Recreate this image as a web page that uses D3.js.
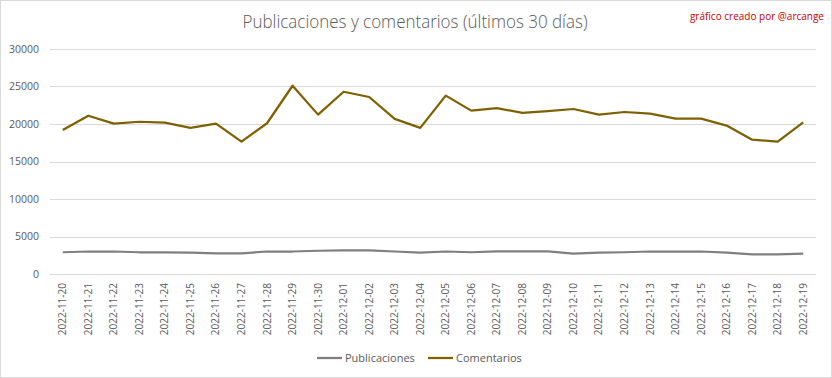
<!DOCTYPE html>
<html>
<head>
<meta charset="utf-8">
<script src="https://cdn.jsdelivr.net/npm/d3@7"></script>
<style>
  body { margin: 0; background: #fff; }
  svg { display: block; font-family: "Open Sans", "Noto Sans", sans-serif; }
</style>
</head>
<body>
<svg id="chart" width="832" height="378"></svg>
<script>
// --- Data ---
const dates = [
  "2022-11-20", "2022-11-21", "2022-11-22", "2022-11-23", "2022-11-24", "2022-11-25",
  "2022-11-26", "2022-11-27", "2022-11-28", "2022-11-29", "2022-11-30", "2022-12-01",
  "2022-12-02", "2022-12-03", "2022-12-04", "2022-12-05", "2022-12-06", "2022-12-07",
  "2022-12-08", "2022-12-09", "2022-12-10", "2022-12-11", "2022-12-12", "2022-12-13",
  "2022-12-14", "2022-12-15", "2022-12-16", "2022-12-17", "2022-12-18", "2022-12-19"
];
const publicaciones = [
  2900, 3000, 3000, 2900, 2900, 2850, 2750, 2750, 3000, 3000,
  3100, 3150, 3150, 3000, 2850, 3000, 2900, 3030, 3030, 3030,
  2720, 2860, 2900, 3000, 3000, 3000, 2860, 2620, 2620, 2730
];
const comentarios = [
  19200, 21100, 20050, 20300, 20180, 19480, 20050, 17650, 20100, 25100,
  21250, 24300, 23600, 20680, 19480, 23780, 21780, 22130, 21480, 21730,
  22000, 21240, 21600, 21380, 20720, 20720, 19790, 17910, 17650, 20220
];
const yTicks = [0, 5000, 10000, 15000, 20000, 25000, 30000];

const series = [
  { name: "Publicaciones", values: publicaciones, color: "#7f7f7f" },
  { name: "Comentarios", values: comentarios, color: "#7f6000" }
];

// --- Layout ---
const W = 832, H = 378;
const margin = { top: 49, right: 16, bottom: 104, left: 50 };
const width = W - margin.left - margin.right;
const height = H - margin.top - margin.bottom;

const svg = d3.select("#chart");

// outer border
svg.append("rect")
  .attr("x", 0.5).attr("y", 0.5)
  .attr("width", W - 1).attr("height", H - 1)
  .attr("fill", "#fff")
  .attr("stroke", "#d9d9d9");

// Title
svg.append("text")
  .attr("x", 415)
  .attr("y", 28)
  .attr("text-anchor", "middle")
  .attr("font-size", "17.5px")
  .attr("font-weight", 300)
  .attr("fill", "#595959")
  .attr("textLength", 345)
  .attr("lengthAdjust", "spacingAndGlyphs")
  .text("Publicaciones y comentarios (últimos 30 días)");

// Credit
svg.append("text")
  .attr("x", 824)
  .attr("y", 20)
  .attr("text-anchor", "end")
  .attr("font-size", "10px")
  .attr("fill", "#c00000")
  .text("gráfico creado por @arcange");

const g = svg.append("g").attr("transform", `translate(${margin.left},${margin.top})`);

// --- Scales ---
const x = d3.scaleBand().domain(dates).range([0, width]);
const y = d3.scaleLinear().domain([0, 30000]).range([height, 0]);

// Gridlines
g.append("g")
  .selectAll("line")
  .data(yTicks)
  .join("line")
  .attr("x1", 0).attr("x2", width)
  .attr("y1", d => Math.round(y(d)) + 0.5)
  .attr("y2", d => Math.round(y(d)) + 0.5)
  .attr("stroke", "#d9d9d9")
  .attr("stroke-width", 1);

// Y axis
const yAxis = g.append("g")
  .call(d3.axisLeft(y).tickValues(yTicks).tickSize(0).tickPadding(11).tickFormat(d3.format("d")));
yAxis.select(".domain").remove();
yAxis.selectAll("text")
  .attr("fill", "#595959")
  .attr("font-size", "10.5px")
  .attr("font-family", "Open Sans, sans-serif");

// X axis
const xAxis = g.append("g")
  .attr("transform", `translate(0,${height})`)
  .call(d3.axisBottom(x).tickSize(0));
xAxis.select(".domain").remove();
xAxis.selectAll("text")
  .attr("fill", "#595959")
  .attr("font-size", "10px")
  .attr("font-family", "Open Sans, sans-serif")
  .attr("text-anchor", "end")
  .attr("transform", "rotate(-90)")
  .attr("x", -9)
  .attr("y", 0)
  .attr("dy", "0.35em");

// Lines
const line = d3.line()
  .x((d, i) => x(dates[i]) + x.bandwidth() / 2)
  .y(d => y(d));

g.selectAll(".series")
  .data(series)
  .join("path")
  .attr("class", "series")
  .attr("fill", "none")
  .attr("stroke", d => d.color)
  .attr("stroke-width", 2.25)
  .attr("stroke-linejoin", "round")
  .attr("d", d => line(d.values));

// Legend
const legendItems = [
  { name: "Publicaciones", color: "#7f7f7f", x: 317 },
  { name: "Comentarios", color: "#7f6000", x: 428 }
];
const legend = svg.append("g");
legendItems.forEach(item => {
  legend.append("line")
    .attr("x1", item.x).attr("x2", item.x + 25)
    .attr("y1", 358).attr("y2", 358)
    .attr("stroke", item.color)
    .attr("stroke-width", 2.25);
  legend.append("text")
    .attr("x", item.x + 28)
    .attr("y", 362)
    .attr("font-size", "11px")
    .attr("fill", "#595959")
    .text(item.name);
});
</script>
</body>
</html>
